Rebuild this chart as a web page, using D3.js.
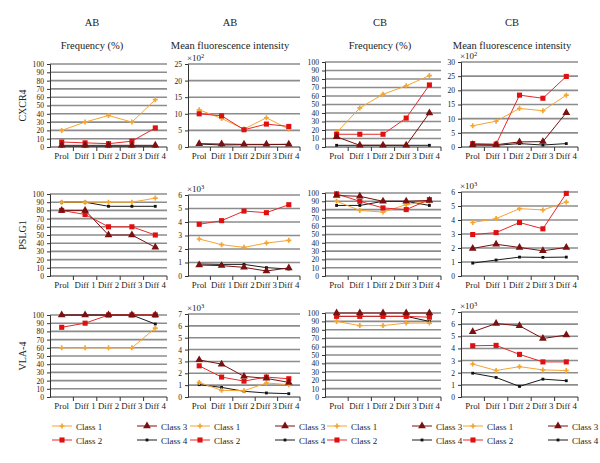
<!DOCTYPE html>
<html><head><meta charset="utf-8">
<script src="https://cdn.jsdelivr.net/npm/d3@7"></script>
<style>body{margin:0;background:#fff}svg{font-family:"Liberation Serif","DejaVu Serif",serif}</style>
</head><body><svg id="c" width="600" height="463"></svg>
<script>
const categories = ["Prol","Diff 1","Diff 2","Diff 3","Diff 4"];
const classes = ["Class 1","Class 2","Class 3","Class 4"];
const colHeads1 = ["AB","AB","CB","CB"];
const colHeads2 = ["Frequency (%)","Mean fluorescence intensity","Frequency (%)","Mean fluorescence intensity"];
const rowTitles = ["CXCR4","PSLG1","VLA-4"];
// y-axis maxima and steps per panel [row][col]
const yMax = [[100,25,100,30],[100,6,100,6],[100,7,100,7]];
const yStep = [[10,5,10,5],[10,1,10,1],[10,1,10,1]];
const multipliers = [[null,"2",null,"2"],[null,"3",null,"3"],[null,"3",null,"3"]];

// values per panel: [class1, class2, class3, class4]
const cxcr4_ab_freq = [[20,30,38,30,57],[6,5,4,7,23],[2,2,2,2,2],[1,1,1,1,1]];
const cxcr4_ab_mfi  = [[11.2,8.6,5.4,8.8,5.4],[10,9.4,5.2,6.9,6.2],[1.0,0.9,0.8,0.8,0.8],[0.9,0.6,0.7,0.7,0.8]];
const cxcr4_cb_freq = [[17,46,62,72,84],[15,15,15,34,73],[12,2,2,2,40],[2,2,2,2,2]];
const cxcr4_cb_mfi  = [[7.5,9.1,13.6,12.8,18.3],[1.2,1.0,18.3,17.2,24.9],[0.8,0.8,1.8,1.9,12.1],[0.7,0.6,1.2,0.7,1.2]];
const pslg1_ab_freq = [[90,90,90,90,95],[80,75,60,60,50],[80,80,50,50,35],[90,90,85,85,85]];
const pslg1_ab_mfi  = [[2.74,2.32,2.12,2.44,2.64],[3.83,4.1,4.81,4.69,5.28],[0.81,0.77,0.64,0.37,0.6],[0.89,0.86,0.86,0.62,0.52]];
const pslg1_cb_freq = [[90,79,77,86,90],[99,90,82,80,92],[97,96,90,90,91],[85,85,90,90,85]];
const pslg1_cb_mfi  = [[3.82,4.1,4.81,4.72,5.28],[2.96,3.1,3.82,3.37,5.9],[1.97,2.27,2.04,1.8,2.04],[0.92,1.14,1.35,1.33,1.35]];
const vla4_ab_freq  = [[60,60,60,60,84],[85,90,100,100,100],[100,100,100,100,100],[100,100,100,100,89]];
const vla4_ab_mfi   = [[1.23,0.56,0.53,1.18,1.04],[2.63,1.68,1.34,1.68,1.54],[3.13,2.77,1.74,1.57,1.23],[1.04,0.81,0.48,0.34,0.28]];
const vla4_cb_freq  = [[90,85,85,88,88],[96,96,96,96,95],[100,100,100,100,100],[96,96,96,96,90]];
const vla4_cb_mfi   = [[2.72,2.18,2.5,2.23,2.18],[4.22,4.25,3.51,2.89,2.89],[5.37,6.05,5.86,4.82,5.1],[1.96,1.61,0.87,1.47,1.34]];

const panels = [
  [cxcr4_ab_freq,cxcr4_ab_mfi,cxcr4_cb_freq,cxcr4_cb_mfi],
  [pslg1_ab_freq,pslg1_ab_mfi,pslg1_cb_freq,pslg1_cb_mfi],
  [vla4_ab_freq,vla4_ab_mfi,vla4_cb_freq,vla4_cb_mfi]
];

const colX = [[50,167],[188,300],[325,441],[461,578]];
const rowTop = [[64,64,62,62],[194,195,193,192],[315,314,313,312]];
const rowBottom = [147,276,397];

const colors = ["#f5a532","#e52a2a","#7a1010","#1a1a1a"];
const markerColors = ["#f5a532","#e01010","#7a1010","#111"];
const symbols = [d3.symbolCross, d3.symbolSquare, d3.symbolTriangle, d3.symbolSquare];
const symSizes = [14, 26, 26, 8];

const svg = d3.select("#c");
const fsTick = 8.8;
const fsYTick = 7.6;
const fsHead = 10.5;

const headCenters = [92,230,380,512];
headCenters.forEach((cx,i)=>{
  svg.append("text").attr("x",cx).attr("y",26).attr("text-anchor","middle").attr("font-size",fsHead).attr("fill","#222").text(colHeads1[i]);
  svg.append("text").attr("x",cx).attr("y",49).attr("text-anchor","middle").attr("font-size",fsHead).attr("fill","#222").text(colHeads2[i]);
});

panels.forEach((row,ri)=>{
  const midY = (rowTop[ri][0]+rowBottom[ri])/2;
  svg.append("text").attr("transform",`translate(26,${midY}) rotate(-90)`).attr("text-anchor","middle")
    .attr("font-size",10).attr("fill","#222").text(rowTitles[ri]);
  row.forEach((data,ci)=>{
    const x = d3.scaleBand().domain(categories).range(colX[ci]).padding(0);
    const y = d3.scaleLinear().domain([0,yMax[ri][ci]]).range([rowBottom[ri],rowTop[ri][ci]]);
    const g = svg.append("g");
    const ticks = d3.range(0,yMax[ri][ci]+1e-9,yStep[ri][ci]);
    g.selectAll("line.grid").data(ticks.filter(t=>t>0)).join("line")
      .attr("x1",colX[ci][0]).attr("x2",colX[ci][1]).attr("y1",d=>y(d)).attr("y2",d=>y(d))
      .attr("stroke","#8c8c8c").attr("stroke-width",1.6);
    const ya = d3.axisLeft(y).tickValues(ticks).tickFormat(d3.format("d")).tickSize(3).tickPadding(3);
    const yg = g.append("g").attr("transform",`translate(${colX[ci][0]},0)`).call(ya);
    yg.select(".domain").attr("stroke","#333");
    yg.selectAll(".tick line").attr("stroke","#333");
    yg.selectAll("text").attr("font-size",fsYTick).attr("font-family","Liberation Serif").attr("fill","#222");
    const xa = d3.axisBottom(x).tickSize(0).tickPadding(6);
    const xg = g.append("g").attr("transform",`translate(0,${rowBottom[ri]})`).call(xa);
    xg.select(".domain").attr("stroke","#333").attr("d",`M${colX[ci][0]},0H${colX[ci][1]}`);
    xg.selectAll("text").attr("font-size",fsTick).attr("font-family","Liberation Serif").attr("fill","#222");
    g.selectAll("line.bt").data(categories).join("line")
      .attr("x1",d=>x(d)+x.bandwidth()).attr("x2",d=>x(d)+x.bandwidth())
      .attr("y1",rowBottom[ri]).attr("y2",rowBottom[ri]+4).attr("stroke","#333");
    if(multipliers[ri][ci]){
      const t = g.append("text").attr("x",colX[ci][0]-1).attr("y",rowTop[ri][ci]-3).attr("font-size",9).attr("fill","#222");
      t.append("tspan").text("×10");
      t.append("tspan").attr("font-size",6.5).attr("dy",-3).text(multipliers[ri][ci]);
    }
    [3,0,1,2].forEach(k=>{
      const vals = data[k];
      const line = d3.line().x((d,i)=>x(categories[i])+x.bandwidth()/2).y(d=>y(d));
      g.append("path").attr("d",line(vals)).attr("fill","none").attr("stroke",colors[k]).attr("stroke-width",1);
      g.selectAll(null).data(vals).join("path")
        .attr("transform",(d,i)=>`translate(${x(categories[i])+x.bandwidth()/2},${y(d)})`)
        .attr("d",d3.symbol().type(symbols[k]).size(symSizes[k]))
        .attr("fill",markerColors[k]);
    });
  });
});

// legends
const legendX = [[52,137],[190,275],[327,412],[463,548]];
colX.forEach((c,ci)=>{
  [[0,2],[1,3]].forEach((pair,r)=>{
    pair.forEach((k,j)=>{
      const lx = legendX[ci][j];
      const ly = 426 + r*14;
      svg.append("line").attr("x1",lx).attr("x2",lx+20).attr("y1",ly).attr("y2",ly).attr("stroke",colors[k]).attr("stroke-width",1);
      svg.append("path").attr("transform",`translate(${lx+10},${ly})`).attr("d",d3.symbol().type(symbols[k]).size(symSizes[k])).attr("fill",markerColors[k]);
      svg.append("text").attr("x",lx+24).attr("y",ly+3.5).attr("font-size",9).attr("fill","#222").text(classes[k]);
    });
  });
});
</script></body></html>
